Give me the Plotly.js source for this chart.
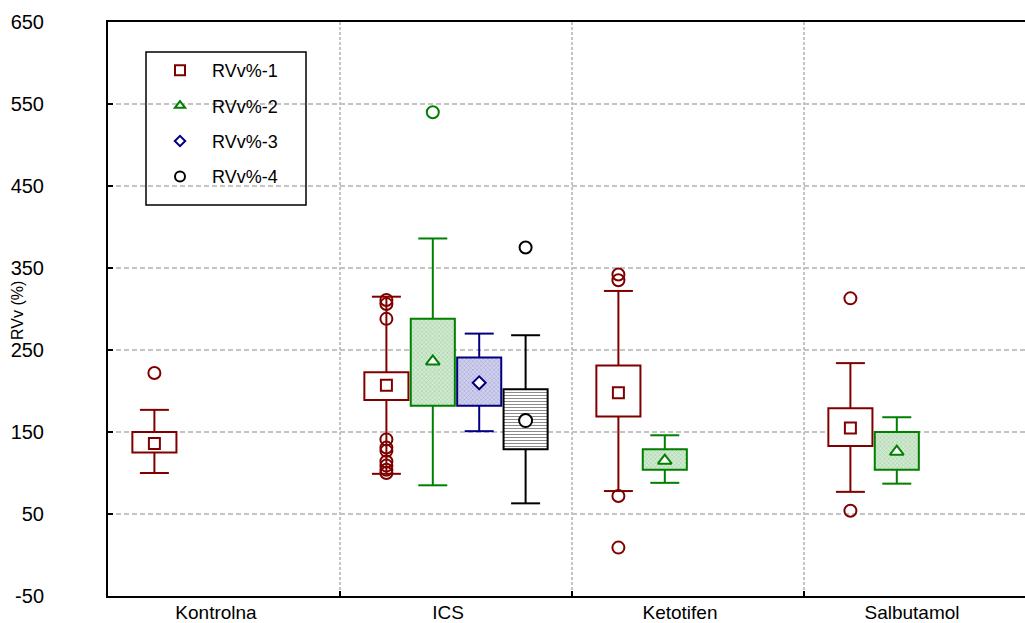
<!DOCTYPE html>
<html><head><meta charset="utf-8">
<script src="https://cdn.plot.ly/plotly-3.0.1.min.js"></script>
<style>html,body{margin:0;padding:0;overflow:hidden;background:#fff}#chart{width:1025px;height:623px}</style>
</head><body><div id="chart"></div>
<script>
// ---- data ----
const categories = ['Kontrolna', 'ICS', 'Ketotifen', 'Salbutamol'];
const seriesNames = ['RVv%-1', 'RVv%-2', 'RVv%-3', 'RVv%-4'];
const yTicks = [-50, 50, 150, 250, 350, 450, 550, 650];
const yTickText = ['-50', '50', '150', '250', '350', '450', '550', '650'];

// RVv%-1
const lower1  = [100, 99, 78, 77];
const q1_1    = [125, 189, 169, 133];
const median1 = [136, 207, 198, 155];
const q3_1    = [150, 223, 231, 179];
const upper1  = [177, 315, 322, 234];
const outliers1 = [[222], [311, 306, 288, 141, 131, 127, 114, 109, 104, 100], [342, 335, 72, 9], [313, 54]];
// RVv%-2
const lower2  = [null, 85, 88, 87];
const q1_2    = [null, 182, 104, 104];
const median2 = [null, 236, 115, 126];
const q3_2    = [null, 288, 129, 150];
const upper2  = [null, 386, 146, 168];
const outliers2 = [[], [540], [], []];
// RVv%-3
const lower3  = [null, 151, null, null];
const q1_3    = [null, 182, null, null];
const median3 = [null, 210, null, null];
const q3_3    = [null, 241, null, null];
const upper3  = [null, 270, null, null];
const outliers3 = [[], [], [], []];
// RVv%-4
const lower4  = [null, 63, null, null];
const q1_4    = [null, 129, null, null];
const median4 = [null, 164, null, null];
const q3_4    = [null, 202, null, null];
const upper4  = [null, 268, null, null];
const outliers4 = [[], [375], [], []];

// ---- styling ----
const series = [
  {name: seriesNames[0], lower: lower1, q1: q1_1, median: median1, q3: q3_1, upper: upper1, out: outliers1,
   color: '#800000', symbol: 'square', legSize: 10, medSize: 11,
   fill: '#ffffff', pattern: null},
  {name: seriesNames[1], lower: lower2, q1: q1_2, median: median2, q3: q3_2, upper: upper2, out: outliers2,
   color: '#008000', symbol: 'triangle-up', legSize: 9, medSize: 12,
   fill: '#cfe8cf', pattern: {shape: 'x', fgcolor: '#9ccc9c', bgcolor: '#d2ead2', size: 3, solidity: 0.3}},
  {name: seriesNames[2], lower: lower3, q1: q1_3, median: median3, q3: q3_3, upper: upper3, out: outliers3,
   color: '#000080', symbol: 'diamond', legSize: 8, medSize: 10,
   fill: '#cfcfec', pattern: {shape: 'x', fgcolor: '#9c9cd4', bgcolor: '#d2d2ee', size: 3, solidity: 0.3}},
  {name: seriesNames[3], lower: lower4, q1: q1_4, median: median4, q3: q3_4, upper: upper4, out: outliers4,
   color: '#000000', symbol: 'circle', legSize: 10, medSize: 13,
   fill: '#ffffff', pattern: {shape: '-', fgcolor: '#8c8c8c', bgcolor: '#ffffff', size: 3, solidity: 0.35}}
];
const offsets = [-0.3, -0.1, 0.1, 0.3];
const boxWidth = 0.19;
const capHalf = 0.0625;

const traces = [];
series.forEach((s, si) => {
  const bx = [], bbase = [], bh = [], wx = [], wy = [], mx = [], my = [], ox = [], oy = [];
  categories.forEach((c, ci) => {
    if (s.median[ci] == null) return;
    const x = ci + 1 + offsets[si];
    bx.push(x); bbase.push(s.q1[ci]); bh.push(s.q3[ci] - s.q1[ci]);
    wx.push(x, x, null, x, x, null, x - capHalf, x + capHalf, null, x - capHalf, x + capHalf, null);
    wy.push(s.q3[ci], s.upper[ci], null, s.q1[ci], s.lower[ci], null, s.upper[ci], s.upper[ci], null, s.lower[ci], s.lower[ci], null);
    mx.push(x); my.push(s.median[ci]);
    (s.out[ci] || []).forEach(v => { ox.push(x); oy.push(v); });
  });
  const marker = {color: s.fill, line: {color: s.color, width: 2}};
  if (s.pattern) marker.pattern = s.pattern;
  traces.push({type: 'bar', x: bx, y: bh, base: bbase, width: boxWidth, marker: marker,
               showlegend: false, hoverinfo: 'skip'});
  traces.push({type: 'scatter', mode: 'lines', x: wx, y: wy, line: {color: s.color, width: 2},
               connectgaps: false, showlegend: false, hoverinfo: 'skip'});
  traces.push({type: 'scatter', mode: 'markers', x: mx, y: my,
               marker: {symbol: s.symbol, size: s.medSize, color: '#ffffff', line: {color: s.color, width: 2}},
               showlegend: false, hoverinfo: 'skip'});
  traces.push({type: 'scatter', mode: 'markers', x: ox, y: oy,
               marker: {symbol: 'circle-open', size: 12, color: s.color, line: {color: s.color, width: 2}},
               showlegend: false, hoverinfo: 'skip'});
  traces.push({type: 'scatter', mode: 'markers', x: [null], y: [null], name: s.name, legendgroup: 'g' + si,
               marker: {symbol: s.symbol, size: s.legSize, color: '#ffffff', line: {color: s.color, width: 2}},
               showlegend: true});
});

const W = 1025, H = 623, L = 108, T = 22, B = 27;
const pw = W - L, ph = H - T - B;
const px = v => (v - L) / pw;
const py = v => (H - B - v) / ph;

const layout = {
  width: W, height: H,
  margin: {l: L, r: 0, t: T, b: B, pad: 0},
  paper_bgcolor: '#ffffff', plot_bgcolor: '#ffffff',
  font: {family: 'Arial, "Liberation Sans", sans-serif', size: 18, color: '#000000'},
  barmode: 'overlay',
  showlegend: true,
  xaxis: {
    range: [0.5, 0.5 + pw / 232], tickmode: 'array', tickvals: [1, 2, 3, 4], ticktext: categories,
    ticks: '', showgrid: false, zeroline: false, showline: true, linecolor: '#000', linewidth: 2,
    mirror: true, ticklabelshift: -8, ticklabelstandoff: -2, fixedrange: true, tickfont: {size: 19},
    minor: {tickmode: 'array', tickvals: [1.5, 2.5, 3.5], ticks: 'inside', ticklen: 5, tickwidth: 2,
            tickcolor: '#000', showgrid: true, gridcolor: '#c4c4c4', gridwidth: 1.5, griddash: '3px,2px'}
  },
  yaxis: {
    range: [-50, 650], tickmode: 'array', tickvals: yTicks, ticktext: yTickText, ticks: 'inside', ticklen: 5, tickwidth: 2,
    tickcolor: '#000', showline: true, linecolor: '#000', linewidth: 2, mirror: false,
    showgrid: true, gridcolor: '#c4c4c4', gridwidth: 1.5, griddash: '5px,3px', zeroline: false,
    ticklabelstandoff: 58, fixedrange: true, tickfont: {size: 20}
  },
  shapes: [{type: 'rect', xref: 'paper', yref: 'paper', x0: px(146), x1: px(306), y0: py(205), y1: py(52),
            line: {color: '#000', width: 1.5}, fillcolor: '#ffffff', layer: 'between'}],
  legend: {x: px(148), y: py(52), xanchor: 'left', yanchor: 'top', bgcolor: 'rgba(0,0,0,0)', borderwidth: 0,
           font: {size: 18}, tracegroupgap: 9, traceorder: 'grouped', itemwidth: 54},
  annotations: [{text: 'RVv (%)', xref: 'paper', yref: 'paper', x: px(17), y: py(311), textangle: -90,
                 showarrow: false, font: {size: 16}, xanchor: 'center', yanchor: 'middle'}]
};

Plotly.newPlot('chart', traces, layout, {staticPlot: true, displayModeBar: false});
</script></body></html>
